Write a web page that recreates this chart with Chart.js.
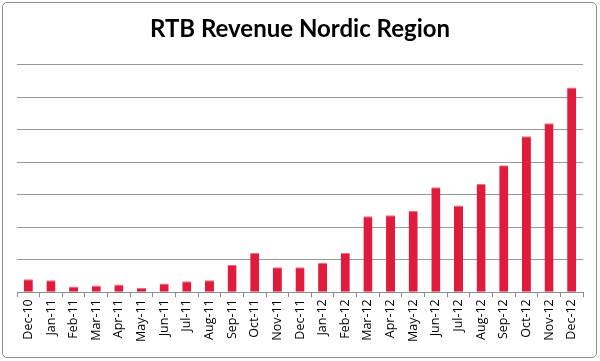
<!DOCTYPE html>
<html>
<head>
<meta charset="utf-8">
<script src="https://cdn.jsdelivr.net/npm/chart.js@4"></script>
<style>
  body { margin: 0; background: #fff; }
  #box {
    position: absolute; left: 2px; top: 2px; width: 595px; height: 356px;
    border: 1px solid #8c8c8c; border-radius: 5px; box-sizing: border-box;
  }
  #box canvas { position: absolute; left: 0; top: 0; }
</style>
</head>
<body>
<div id="box"><canvas id="rtbChart" width="593" height="354"></canvas></div>
<script>
// months shown on the x axis
const months = ["Dec-10", "Jan-11", "Feb-11", "Mar-11", "Apr-11", "May-11", "Jun-11", "Jul-11",
    "Aug-11", "Sep-11", "Oct-11", "Nov-11", "Dec-11", "Jan-12", "Feb-12", "Mar-12", "Apr-12",
    "May-12", "Jun-12", "Jul-12", "Aug-12", "Sep-12", "Oct-12", "Nov-12", "Dec-12"];

// revenue (grid step = 1, no scale shown)
const revenue = [0.40, 0.37, 0.18, 0.21, 0.24, 0.14, 0.27, 0.34, 0.37, 0.84, 1.21, 0.77, 0.77,
    0.91, 1.21, 2.34, 2.37, 2.50, 3.23, 2.67, 3.33, 3.91, 4.80, 5.20, 6.30];

const yMax = 7;
const yStep = 1;

const ctx = document.getElementById('rtbChart').getContext('2d');
new Chart(ctx, {
    type: 'bar',
    data: {
        labels: months,
        datasets: [{
            label: "RTB Revenue",
            data: revenue,
            backgroundColor: "#e11b3b",
            borderColor: "#f26c80",
            borderWidth: { top: 1, left: 0, right: 0, bottom: 0 },
            categoryPercentage: 1.0,
            barPercentage: 0.4
        }]
    },
    options: {
        responsive: false,
        animation: false,
        layout: { padding: { left: 14, right: 13, top: 0, bottom: 13 } },
        plugins: {
            legend: { display: false },
            tooltip: { enabled: false },
            title: {
                display: true,
                text: "RTB Revenue Nordic Region",
                color: "#000",
                font: { family: "Lato", size: 24, weight: 'bold' },
                padding: { top: 12, bottom: 21 }
            }
        },
        scales: {
            x: {
                offset: true,
                grid: {
                    offset: true,
                    drawOnChartArea: false,
                    drawTicks: true,
                    tickLength: 5,
                    color: "#8c8c8c"
                },
                border: { display: true, color: "#8c8c8c", width: 1 },
                ticks: {
                    color: "#000",
                    font: { family: "Open Sans", size: 12.5 },
                    minRotation: 90,
                    maxRotation: 90,
                    autoSkip: false,
                    padding: 2
                }
            },
            y: {
                min: 0,
                max: yMax,
                ticks: { display: false, stepSize: yStep },
                grid: { color: "#999999", lineWidth: 1, drawTicks: false },
                border: { display: false }
            }
        }
    }
});
</script>
</body>
</html>
